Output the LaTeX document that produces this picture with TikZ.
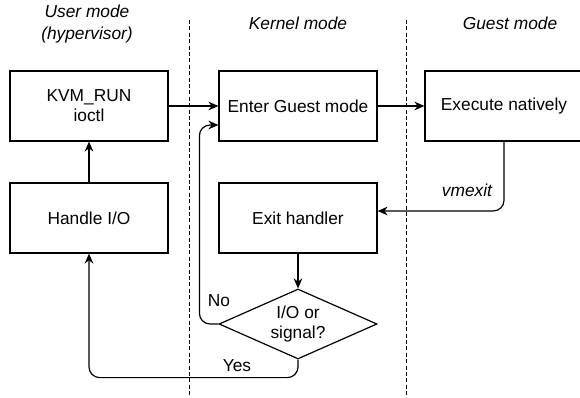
\documentclass[tikz,border=0pt]{standalone}
\usepackage{fontspec}
\setmainfont{Liberation Sans}
\usetikzlibrary{arrows.meta,shapes.geometric,calc}

\begin{document}
\begin{tikzpicture}[x=0.75pt,y=-0.75pt,
        font=\fontsize{13}{15}\selectfont,
        line width=0.9pt,
        >={Stealth[length=7.5pt,width=6.5pt]},
        stepbox/.style={draw,minimum width=118.5pt,minimum height=52.5pt,align=center,inner sep=0pt},
        decision/.style={draw,diamond,aspect=2.257,minimum width=118.5pt,minimum height=52.5pt,align=center,inner sep=0pt},
        modelabel/.style={font=\fontsize{13}{16.5}\selectfont\itshape,align=center},
        divider/.style={dash pattern=on 3pt off 1.8pt,line width=0.7pt}]

        \useasboundingbox (0,0) rectangle (580,398);

        % mode titles
        \node[modelabel] at (87,24) (user) {User mode\\(hypervisor)};
        \node[modelabel] at (298,23) (kernel) {Kernel mode};
        \node[modelabel] at (510,23) (guest) {Guest mode};

        % separators
        \coordinate (sepAtop) at (189,20);
        \coordinate (sepAbot) at (189,396);
        \coordinate (sepBtop) at (406,20);
        \coordinate (sepBbot) at (406,396);
        \draw[divider] (sepAtop) -- (sepAbot);
        \draw[divider] (sepBtop) -- (sepBbot);

        % boxes
        \node[stepbox] at (89,106) (kvm) {KVM\_RUN\\ioctl};
        \node[stepbox] at (89,218) (hio) {Handle I/O};
        \node[stepbox] at (298,106) (enter) {Enter Guest mode};
        \node[stepbox] at (504,106) (exec) {Execute natively};
        \node[stepbox] at (298,218) (exit) {Exit handler};
        \node[decision] at (298,324) (dec) {I/O or\\signal?};

        % labels
        \node at (467,190) (vmx) {\itshape vmexit};
        \node at (219,301) (no) {No};
        \node at (237,366) (yes) {Yes};

        % connectors
        \draw[->] (kvm) -- (enter);
        \draw[->] (enter) -- (exec);
        \draw[->,rounded corners=8pt] (exec.south) |- ($(exit.east)+(0,-7)$);
        \draw[->] (exit) -- (dec);
        \draw[->,rounded corners=8pt] (dec.west) -- ++(-19,0) |- ($(enter.west)+(0,19)$);
        \draw[->,rounded corners=8pt] (dec.south) -- ++(0,18) -| (hio.south);
        \draw[->] (hio) -- (kvm);

    \end{tikzpicture}
\end{document}
